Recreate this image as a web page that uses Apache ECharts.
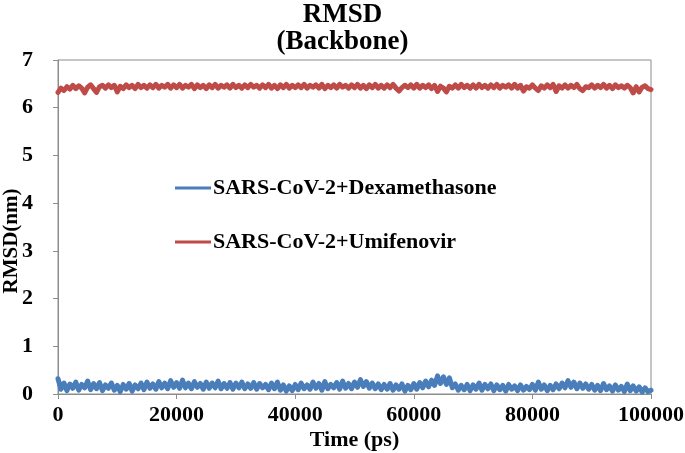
<!DOCTYPE html>
<html>
<head>
<meta charset="utf-8">
<script src="https://cdn.jsdelivr.net/npm/echarts@6/dist/echarts.min.js"></script>
<style>html,body{margin:0;padding:0;background:#fff}#c{width:685px;height:453px}</style>
</head>
<body>
<div id="c"></div>
<script>
const seriesNames = ['SARS-CoV-2+Dexamethasone', 'SARS-CoV-2+Umifenovir'];
const timeStep = 500; // ps between samples
const yTicks = [0, 1, 2, 3, 4, 5, 6, 7];
const xTicks = [0, 20000, 40000, 60000, 80000, 100000];

const dexa = [
0.32,0.10,0.23,0.07,0.21,0.12,0.25,0.08,0.20,0.13,0.27,0.09,0.22,0.11,0.24,0.07,0.19,0.12,0.23,0.08,
0.18,0.05,0.20,0.10,0.22,0.06,0.19,0.11,0.23,0.09,0.25,0.12,0.21,0.10,0.26,0.13,0.23,0.11,0.28,0.14,
0.24,0.12,0.29,0.13,0.23,0.11,0.26,0.14,0.22,0.10,0.25,0.12,0.23,0.13,0.27,0.11,0.22,0.12,0.24,0.10,
0.23,0.13,0.25,0.11,0.21,0.12,0.24,0.10,0.22,0.13,0.20,0.09,0.23,0.11,0.25,0.08,0.19,0.06,0.17,0.07,
0.20,0.09,0.23,0.11,0.19,0.10,0.25,0.12,0.22,0.08,0.26,0.11,0.20,0.13,0.24,0.10,0.27,0.12,0.22,0.11,
0.25,0.14,0.30,0.16,0.26,0.12,0.23,0.11,0.21,0.09,0.20,0.10,0.22,0.08,0.19,0.10,0.21,0.06,0.18,0.09,
0.22,0.10,0.24,0.13,0.27,0.15,0.29,0.18,0.38,0.22,0.36,0.20,0.34,0.13,0.21,0.08,0.18,0.09,0.20,0.07,
0.19,0.10,0.23,0.08,0.20,0.11,0.21,0.07,0.19,0.09,0.18,0.06,0.20,0.10,0.17,0.07,0.19,0.08,0.16,0.09,
0.20,0.08,0.25,0.10,0.19,0.07,0.18,0.09,0.21,0.11,0.23,0.13,0.28,0.14,0.25,0.11,0.23,0.12,0.21,0.10,
0.20,0.08,0.18,0.07,0.22,0.09,0.17,0.06,0.19,0.08,0.16,0.05,0.21,0.07,0.17,0.06,0.15,0.04,0.13,0.05,
0.08
];

const umif = [
6.32,6.41,6.36,6.44,6.39,6.47,6.40,6.46,6.41,6.31,6.43,6.48,6.40,6.32,6.44,6.47,6.41,6.48,6.42,6.47,
6.33,6.45,6.40,6.48,6.42,6.47,6.40,6.49,6.42,6.47,6.41,6.48,6.42,6.49,6.41,6.47,6.43,6.49,6.41,6.48,
6.42,6.49,6.41,6.47,6.43,6.49,6.40,6.48,6.42,6.47,6.40,6.48,6.42,6.49,6.41,6.47,6.43,6.48,6.41,6.49,
6.42,6.47,6.41,6.48,6.42,6.49,6.43,6.47,6.41,6.48,6.42,6.49,6.41,6.47,6.40,6.48,6.42,6.49,6.41,6.47,
6.42,6.48,6.42,6.49,6.41,6.47,6.43,6.48,6.41,6.49,6.40,6.47,6.42,6.48,6.41,6.49,6.43,6.47,6.41,6.48,
6.42,6.49,6.41,6.47,6.40,6.48,6.42,6.49,6.41,6.47,6.41,6.48,6.42,6.49,6.41,6.35,6.42,6.47,6.42,6.48,
6.41,6.49,6.41,6.47,6.42,6.48,6.40,6.47,6.34,6.45,6.41,6.33,6.45,6.41,6.48,6.41,6.49,6.42,6.47,6.41,
6.48,6.41,6.49,6.42,6.47,6.41,6.48,6.42,6.49,6.41,6.47,6.43,6.48,6.41,6.49,6.41,6.47,6.35,6.44,6.41,
6.48,6.41,6.36,6.46,6.41,6.48,6.42,6.49,6.34,6.46,6.41,6.48,6.41,6.47,6.42,6.49,6.40,6.36,6.44,6.42,
6.48,6.41,6.47,6.42,6.49,6.41,6.47,6.40,6.48,6.42,6.46,6.41,6.47,6.42,6.31,6.44,6.33,6.43,6.46,6.40,
6.38
];

const toPairs = arr => arr.map((v, i) => [i * timeStep, v]);
const serif = '"Liberation Serif", "Times New Roman", serif';

const chart = echarts.init(document.getElementById('c'));
chart.setOption({
  animation: false,
  backgroundColor: '#fff',
  title: {
    text: 'RMSD\n(Backbone)',
    left: 'center',
    top: -3,
    textStyle: { fontFamily: serif, fontWeight: 'bold', fontSize: 27, color: '#000', lineHeight: 27 }
  },
  grid: { left: 58, right: 34, top: 60, bottom: 59, show: true, borderColor: '#8c8c8c', borderWidth: 1,
    outerBoundsMode: 'none', containLabel: false },
  legend: {
    orient: 'vertical',
    left: 170,
    top: 172,
    itemGap: 32,
    itemWidth: 36,
    itemHeight: 3,
    icon: 'rect',
    textStyle: { fontFamily: serif, fontWeight: 'bold', fontSize: 22, color: '#000', padding: [0,0,0,-3] },
    data: seriesNames
  },
  xAxis: {
    type: 'value',
    min: 0, max: 100000, interval: 20000,
    name: 'Time (ps)',
    nameLocation: 'middle',
    nameGap: 35,
    nameMoveOverlap: false,
    nameTextStyle: { fontFamily: serif, fontWeight: 'bold', fontSize: 22, color: '#000' },
    axisLine: { lineStyle: { color: '#8c8c8c' } },
    axisTick: { show: true, length: 5, lineStyle: { color: '#8c8c8c' } },
    axisLabel: { fontFamily: serif, fontWeight: 'bold', fontSize: 22, color: '#000', margin: 10, showMaxLabel: true,
      formatter: v => xTicks.includes(v) ? String(v) : '' },
    splitLine: { show: false }
  },
  yAxis: {
    type: 'value',
    min: 0, max: 7, interval: 1,
    name: 'RMSD(nm)',
    nameLocation: 'middle',
    nameGap: 36,
    nameMoveOverlap: false,
    nameTextStyle: { fontFamily: serif, fontWeight: 'bold', fontSize: 21, color: '#000', padding: [0, 28, 0, 0] },
    axisLine: { show: true, lineStyle: { color: '#8c8c8c' } },
    axisTick: { show: true, length: 5, lineStyle: { color: '#8c8c8c' } },
    axisLabel: { fontFamily: serif, fontWeight: 'bold', fontSize: 22, color: '#000', margin: 25,
      formatter: v => yTicks.includes(v) ? String(v) : '' },
    splitLine: { show: false }
  },
  series: [
    { name: seriesNames[0], type: 'line', data: toPairs(dexa), showSymbol: false, symbol: 'none',
      lineStyle: { color: '#4a7ebb', width: 5, join: 'round', cap: 'round' }, itemStyle: { color: '#4a7ebb' } },
    { name: seriesNames[1], type: 'line', data: toPairs(umif), showSymbol: false, symbol: 'none',
      lineStyle: { color: '#be4b48', width: 5, join: 'round', cap: 'round' }, itemStyle: { color: '#be4b48' } }
  ]
});
</script>
</body>
</html>
